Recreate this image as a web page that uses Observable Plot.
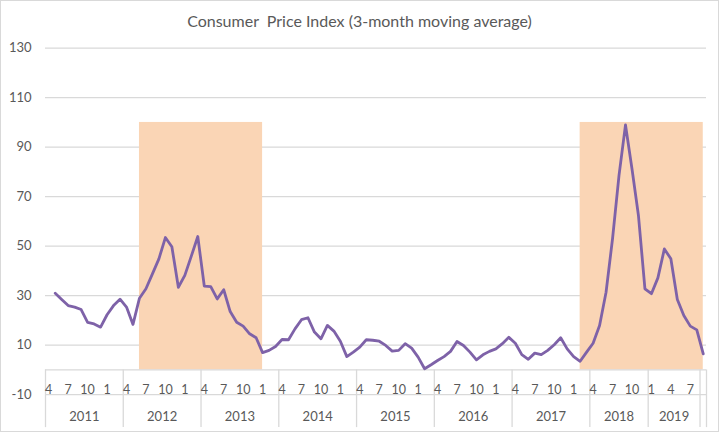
<!DOCTYPE html>
<html>
<head>
<meta charset="utf-8">
<script src="https://cdn.jsdelivr.net/npm/d3@7"></script>
<script src="https://cdn.jsdelivr.net/npm/@observablehq/plot@0.6"></script>
<style>
  html, body { margin: 0; padding: 0; background: #fff; }
  #wrap { position: relative; width: 719px; height: 432px; overflow: hidden; background: #fff; }
  #frame { position: absolute; left: 0; top: 0; width: 717px; height: 430px; border: 1px solid #d9d9d9; pointer-events: none; }
  #title { height: 36px; line-height: 42px; text-align: center; font-family: Lato, "Open Sans", sans-serif; font-size: 16px; color: #595959; white-space: pre; }
  svg { display: block; }
</style>
</head>
<body>
<div id="wrap">
  <div id="title">Consumer  Price Index (3-month moving average)</div>
  <div id="chart"></div>
  <div id="frame"></div>
</div>
<script>
// Monthly 3-month moving average, Apr 2011 .. Sep 2019 (index 0 = Apr 2011)
const values = [
  null, 31, 28.5, 26, 25.4, 24.4, 19.2, 18.6, 17.3, 22.3, 26, 28.6,
  25.4, 18.4, 29, 32.8, 38.8, 44.9, 53.5, 49.8, 33.4, 38.2, 46, 53.9,
  33.9, 33.7, 28.7, 32.4, 23.6, 19.3, 17.7, 14.6, 13, 7, 7.9, 9.5,
  12.3, 12.2, 16.6, 20.3, 21.1, 15.3, 12.6, 18, 15.7, 11.6, 5.4, 7.2,
  9.2, 12.2, 12, 11.6, 9.9, 7.6, 7.9, 10.6, 8.8, 5.2, 0.5, 2.1,
  3.8, 5.4, 7.5, 11.5, 9.9, 7.2, 4.1, 6.1, 7.5, 8.5, 10.6, 13.2,
  10.8, 6.2, 4.3, 6.8, 6.2, 7.9, 10.2, 13, 8.5, 5.4, 3.5, 7.2,
  10.8, 18, 31.4, 53, 78.6, 99, 81.3, 62.4, 32.8, 30.8, 37.2, 48.9,
  44.9, 28.5, 22, 17.7, 16.2, 6.5
];

// Month tick labels (every third month) and their month index
const monthTickLabels = [
  "4","7","10","1", "4","7","10","1", "4","7","10","1", "4","7","10","1",
  "4","7","10","1", "4","7","10","1", "4","7","10","1", "4","7","10",
  "1","4","7"
];
const monthTickIndex = [
  0,3,6,9, 12,15,18,21, 24,27,30,33, 36,39,42,45,
  48,51,54,57, 60,63,66,69, 72,75,78,81, 84,87,90,
  93,96,99
];

// Year groups on the category axis
const yearLabels = ["2011","2012","2013","2014","2015","2016","2017","2018","2019",""];
const yearStarts = [0, 12, 24, 36, 48, 60, 72, 84, 93, 101];
const yearEnds   = [12, 24, 36, 48, 60, 72, 84, 93, 101, 102];

// Shaded periods (month index, inclusive) and their height
const shadeStart = [14, 82];
const shadeEnd   = [33, 101];
const shadeTop   = 100;

// Y axis ticks
const yTicks = [130, 110, 90, 70, 50, 30, 10, -10];

const data = values.map((v, i) => ({i, v}));
const shades = shadeStart.map((s, k) => ({s, e: shadeEnd[k]}));
const years = yearLabels.map((label, k) => ({label, s: yearStarts[k], e: yearEnds[k]}));
const ticks = monthTickIndex.map((i, k) => ({i, label: monthTickLabels[k]}));
const separators = yearStarts.concat([102]);

const textColor = "#595959";
const gridColor = "#d9d9d9";

const chart = Plot.plot({
  width: 719,
  height: 396,
  marginLeft: 45,
  marginRight: 13,
  marginTop: 11.7,
  marginBottom: 37.8,
  x: {type: "linear", domain: [0, 102], axis: null},
  y: {type: "linear", domain: [-10, 130], axis: null},
  style: {fontFamily: "Lato, 'Open Sans', sans-serif", color: textColor, background: "transparent", overflow: "visible"},
  marks: [
    Plot.ruleY(yTicks, {y: d => d, stroke: gridColor, strokeWidth: 1.3}),
    Plot.rect(shades, {x1: d => d.s + 0.5, x2: d => d.e + 0.5, y1: 0, y2: shadeTop, fill: "#FAD5B5"}),
    Plot.ruleY([0], {y: d => d, stroke: gridColor, strokeWidth: 1.3}),
    Plot.ruleX(separators, {x: d => d, y1: 0, y2: -23.3, stroke: gridColor, strokeWidth: 1.3}),
    Plot.line(data, {x: d => d.i + 0.5, y: "v", stroke: "#7E62A8", strokeWidth: 2.8, strokeLinejoin: "round", curve: "linear"}),
    Plot.text(yTicks, {y: d => d, text: d => String(d), frameAnchor: "left", dx: -14, textAnchor: "end", fontSize: 13, fill: textColor}),
    Plot.text(ticks, {x: d => d.i + 0.5, y: -10, dy: -5, text: "label", fontSize: 12.5, fill: textColor}),
    Plot.text(years, {x: d => (d.s + d.e) / 2, y: -10, dy: 22.5, text: "label", fontSize: 13, fill: textColor})
  ]
});
document.getElementById("chart").appendChild(chart);
</script>
</body>
</html>
